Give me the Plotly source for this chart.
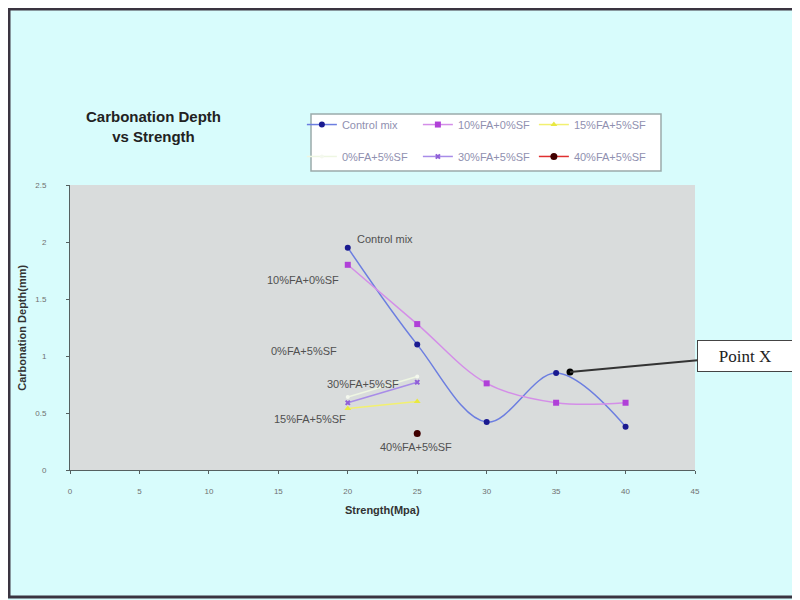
import plotly.graph_objects as go

strength = [20, 25, 30, 35, 40]
control_mix = [1.95, 1.10, 0.42, 0.85, 0.38]
fa10_sf0 = [1.80, 1.28, 0.76, 0.59, 0.59]
x_two = [20, 25]
fa15_sf5 = [0.54, 0.60]
fa0_sf5 = [0.64, 0.82]
fa30_sf5 = [0.59, 0.77]
x_one = [25]
fa40_sf5 = [0.32]
point_x = [36]
point_y = [0.86]
x_ticks = [0, 5, 10, 15, 20, 25, 30, 35, 40, 45]
y_ticks = [0, 0.5, 1, 1.5, 2, 2.5]

FONT = "Liberation Sans"
fig = go.Figure()

series = [
    ("Control mix", strength, control_mix, "#6c7ee0", "#1a1a90", "circle", 6, "legend"),
    ("10%FA+0%SF", strength, fa10_sf0, "#d48ee8", "#b040d8", "square", 6, "legend"),
    ("15%FA+5%SF", x_two, fa15_sf5, "#f2f070", "#e8e840", "triangle-up", 6, "legend"),
    ("0%FA+5%SF", x_two, fa0_sf5, "#eef6e2", "#f4f8ee", "circle", 4, "legend2"),
    ("30%FA+5%SF", x_two, fa30_sf5, "#a88ce8", "#9060d8", "x", 5, "legend2"),
    ("40%FA+5%SF", x_one, fa40_sf5, "#e03030", "#400000", "circle", 7, "legend2"),
]
for name, xs, ys, lc, mc, sym, ms, lg in series:
    fig.add_trace(go.Scatter(
        x=xs, y=ys, name=name, mode="lines+markers",
        line=dict(color=lc, width=1.5, shape="spline", smoothing=1.0),
        marker=dict(color=mc, symbol=sym, size=ms),
        legend=lg,
    ))

fig.add_trace(go.Scatter(x=point_x, y=point_y, mode="markers",
                         marker=dict(color="black", size=7), showlegend=False))

label_font = dict(family=FONT, size=11, color="#505050")
labels = [
    (20.5, 2.03, "Control mix", "left"),
    (19.5, 1.67, "10%FA+0%SF", "right"),
    (19.4, 1.04, "0%FA+5%SF", "right"),
    (23.8, 0.755, "30%FA+5%SF", "right"),
    (20.0, 0.45, "15%FA+5%SF", "right"),
    (22.2, 0.20, "40%FA+5%SF", "left"),
]
annotations = []
for x, y, t, al in labels:
    annotations.append(dict(x=x, y=y, text=t, showarrow=False, xanchor=al,
                            yanchor="middle", font=label_font))

annotations.append(dict(
    x=point_x[0], y=point_y[0], text="Point X", showarrow=True, arrowhead=0,
    arrowwidth=2, arrowcolor="#333333", ax=175, ay=-16,
    bgcolor="white", bordercolor="#444444", borderwidth=1, width=92, height=28,
    font=dict(family="Liberation Serif", size=17, color="#222222"),
))
annotations.append(dict(
    xref="paper", yref="paper", x=0.134, y=1.205, xanchor="center", yanchor="middle",
    text="<b>Carbonation Depth<br>vs Strength</b>", showarrow=False,
    font=dict(family=FONT, size=15, color="#222222"),
))
annotations.append(dict(
    xref="paper", yref="paper", x=-0.078, y=0.5, xanchor="center", yanchor="middle",
    text="<b>Carbonation Depth(mm)</b>", showarrow=False, textangle=-90,
    font=dict(family=FONT, size=11, color="#333333"),
))
annotations.append(dict(
    xref="paper", yref="paper", x=0.5, y=-0.14, xanchor="center", yanchor="middle",
    text="<b>Strength(Mpa)</b>", showarrow=False,
    font=dict(family=FONT, size=11, color="#333333"),
))

leg_font = dict(family=FONT, size=11, color="#9090b0")
fig.update_layout(
    width=792, height=592,
    margin=dict(l=62, r=105, t=177, b=130),
    paper_bgcolor="#d8fcfc",
    plot_bgcolor="#d9dcdc",
    showlegend=True,
    annotations=annotations,
    legend=dict(orientation="h", x=0.371, y=1.263, xanchor="left", yanchor="top",
                bgcolor="rgba(0,0,0,0)", entrywidth=71, font=leg_font),
    legend2=dict(orientation="h", x=0.371, y=1.151, xanchor="left", yanchor="top",
                 bgcolor="rgba(0,0,0,0)", entrywidth=71, font=leg_font),
    shapes=[
        dict(type="rect", xref="paper", yref="paper", x0=0.3856, x1=0.9456, y0=1.049, y1=1.249,
             line=dict(color="#9aaaaa", width=1.5), fillcolor="white", layer="below"),
        dict(type="rect", xref="paper", yref="paper", x0=-0.0976, x1=1.1632, y0=-0.4456, y1=1.6175,
             line=dict(color="#3a3440", width=3), fillcolor="rgba(0,0,0,0)"),
    ],
    xaxis=dict(range=[0, 45], tickvals=x_ticks, ticks="outside", ticklen=3,
               tickcolor="#556060", showgrid=False, zeroline=False,
               showline=True, linecolor="#556060", linewidth=1, ticklabelstandoff=10,
               tickfont=dict(family=FONT, size=8, color="#707070")),
    yaxis=dict(range=[0, 2.5], tickvals=y_ticks, ticks="outside", ticklen=3,
               tickcolor="#556060", showgrid=False, zeroline=False,
               showline=True, linecolor="#556060", linewidth=1, ticklabelstandoff=18,
               tickfont=dict(family=FONT, size=8, color="#707070")),
)

fig.write_html("out.html")
